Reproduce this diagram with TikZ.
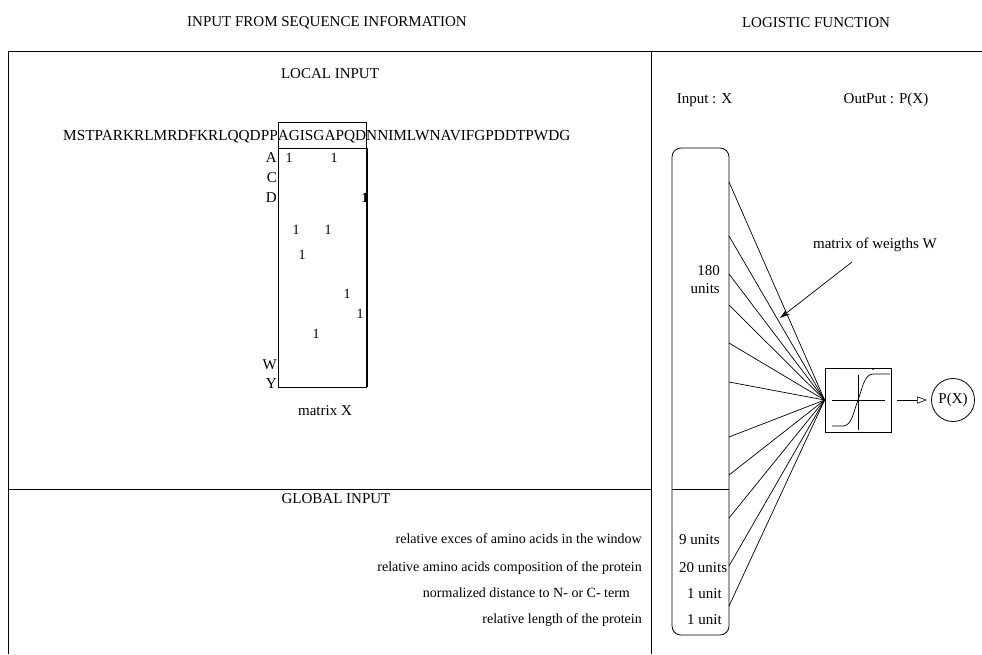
\documentclass[tikz,border=0pt]{standalone}
\usepackage{fontspec}
\setmainfont{Liberation Serif}
\usetikzlibrary{arrows.meta}
\begin{document}
\begin{tikzpicture}[x=1pt,y=-1pt,
  txt/.style={inner sep=0pt,font=\fontsize{15}{18}\selectfont},
  stxt/.style={inner sep=0pt,font=\fontsize{14}{17}\selectfont},
  frame/.style={line width=0.8pt},
  wline/.style={line width=0.7pt}]
\useasboundingbox (0,0) rectangle (982,654);
% frame
\draw[frame] (8,654) -- (8,51) -- (982,51);
\draw[frame] (651,51) -- (651,654);
\draw[frame] (8,489) -- (651,489);
% titles
\node[txt,anchor=base] (t1) at (327,26) {INPUT FROM SEQUENCE INFORMATION};
\node[txt,anchor=base] (t2) at (816,27) {LOGISTIC FUNCTION};
\node[txt,anchor=base] (loc) at (330,78) {LOCAL INPUT};
\node[txt,anchor=base] (glob) at (336,503) {GLOBAL INPUT};
% sequence
\node[txt,anchor=base east,font=\fontsize{15.3}{18}\selectfont] (pre) at (278,140.5) {MSTPARKRLMRDFKRLQQDPP};
\node[txt,anchor=base,font=\fontsize{15.3}{18}\selectfont] (win) at (322,140.5) {AGISGAPQD};
\node[txt,anchor=base west,font=\fontsize{15.3}{18}\selectfont] (suf) at (366,140.5) {NNIMLWNAVIFGPDDTPWDG};
% matrix
\draw[line width=0.8pt] (278,122) rectangle (366,387);
\draw[line width=0.8pt] (278,148) -- (366,148);
\draw[line width=1.2pt] (367,148) -- (367,387);
\foreach \l/\y in {A/162,C/182,D/202,W/369,Y/388}
  \node[txt,anchor=base east] (r\l) at (277,\y) {\l};
\foreach \x/\y [count=\i] in {289/162,334/162,296/234,328/234,302/259,347/298,360/318,316/338}
  \node[stxt,anchor=base] (one\i) at (\x,\y) {1};
\node[stxt,anchor=base,font=\fontsize{14}{17}\selectfont\bfseries] (oneD) at (365,202) {1};
\node[txt,anchor=base] (mx) at (325,415) {matrix X};
% global input lines
\node[stxt,anchor=base east] (g1) at (642,543) {relative exces of amino acids in the window};
\node[stxt,anchor=base east] (g2) at (642,571) {relative amino acids composition of the protein};
\node[stxt,anchor=base east] (g3) at (630,597) {normalized distance to N- or C- term};
\node[stxt,anchor=base east] (g4) at (642,623) {relative length of the protein};
% right panel
\node[txt,anchor=base] (inx) at (704.5,103) {Input : X};
\node[txt,anchor=base] (outp) at (886,103) {OutPut : P(X)};
\draw[line width=0.8pt,rounded corners=9pt] (672,148) rectangle (729,635);
\draw[line width=0.8pt] (672,489) -- (729,489);
\node[txt,anchor=base east] (n180) at (720,275) {180};
\node[txt,anchor=base east] (nun) at (720,293) {units};
\node[txt,anchor=base west] (u1) at (679,544) {9 units};
\node[txt,anchor=base west] (u2) at (679,572) {20 units};
\node[txt,anchor=base west] (u3) at (687,598) {1 unit};
\node[txt,anchor=base west] (u4) at (687,624) {1 unit};
% sigmoid box
\node[draw,line width=0.8pt,minimum width=66pt,minimum height=64pt,inner sep=0pt] (sig) at (858,400) {};
\draw[line width=0.6pt] (832,400) -- (885,400);
\draw[line width=0.6pt] (858,375) -- (858,430);
\draw[line width=0.7pt] (832,426) -- (843,426) .. controls (852,426) and (854,410) .. (858,400)
  .. controls (862,390) and (864,374) .. (873,374) -- (890,374);
\fill (873,369) circle (1pt);
\node[draw,circle,line width=0.8pt,minimum size=43pt,inner sep=0pt,font=\fontsize{15}{18}\selectfont] (px) at (953,400) {P(X)};
\draw[line width=0.6pt,-{Triangle[open,length=10pt,width=7pt]}] ([xshift=6pt]sig.east) -- ([xshift=-4pt]px.west);
% weight lines
\foreach \y [count=\i] in {182,236,274,305,343,382,437,475,518,566,606}{
  \coordinate (s\i) at (729,\y);
  \draw[wline] (s\i) -- (sig.west);
}
\node[txt,anchor=base] (mw) at (875,248) {matrix of weigths W};
\coordinate (wa) at (852,262);
\coordinate (wb) at (780,318);
\draw[line width=0.7pt,-{Stealth[length=10pt,width=6pt]}] (wa) -- (wb);
\end{tikzpicture}
\end{document}
